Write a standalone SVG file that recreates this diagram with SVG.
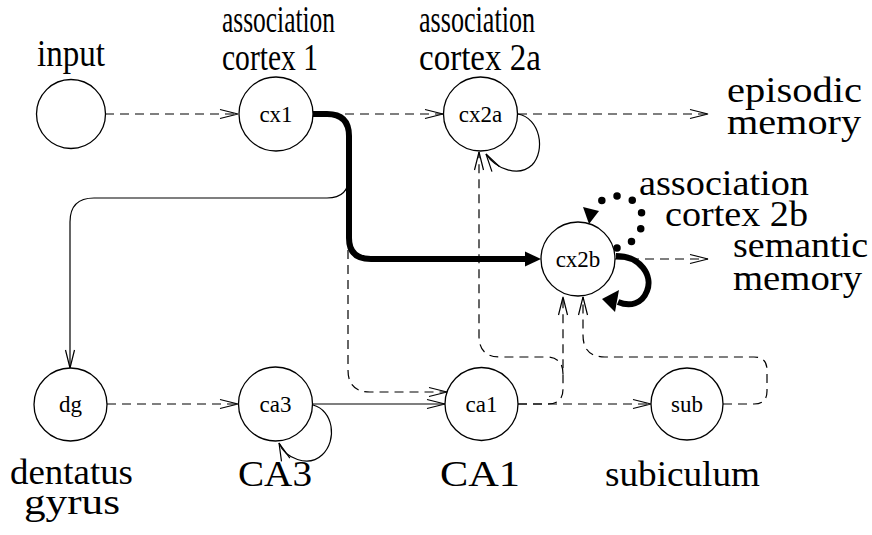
<svg xmlns="http://www.w3.org/2000/svg" width="872" height="535" viewBox="0 0 872 535">
<defs>
<marker id="open" markerUnits="userSpaceOnUse" markerWidth="20" markerHeight="12" refX="18" refY="5" orient="auto" overflow="visible">
<path d="M0,0.5 L18,5 L0,9.5" fill="none" stroke="#000" stroke-width="1.2"/>
</marker>
</defs>
<style>
.node circle{fill:#fff;stroke:#000;stroke-width:1.3}
.nl{font-family:"Liberation Serif",serif;font-size:23px;text-anchor:middle}
.lb{font-family:"Liberation Serif",serif;font-size:36px}
.tl{font-family:"Liberation Serif",serif;font-size:37px}
.dash{fill:none;stroke:#000;stroke-width:1.2;stroke-dasharray:9 6}
.thin{fill:none;stroke:#000;stroke-width:1.2}
.thick{fill:none;stroke:#000;stroke-width:6}
.dot{fill:none;stroke:#000;stroke-width:7.5;stroke-linecap:round;stroke-dasharray:0 16}
</style>
<rect width="872" height="535" fill="#fff"/>
<g id="connectors">
<path class="dash" d="M105 114 L238 114" marker-end="url(#open)"/>
<path class="dash" d="M330 114 L443 114" marker-end="url(#open)"/>
<path class="dash" d="M518 114 L708 114" marker-end="url(#open)"/>
<path class="thin" d="M518 114 C540 118 546 150 532 165 C518 178 495 168 486 154" marker-end="url(#open)"/>
<path class="thin" d="M349 176 Q349 198 327 198 L94 198 Q70 198 70 222 L70 368" marker-end="url(#open)"/>
<path class="dash" d="M348 250 L348 370 Q348 392 370 392 L447 392" marker-end="url(#open)"/>
<path class="dash" d="M107 404 L238 404" marker-end="url(#open)"/>
<path class="thin" d="M313 404 L445 404" marker-end="url(#open)"/>
<path class="thin" d="M313 405 C333 410 338 440 322 455 C308 468 285 458 279 443" marker-end="url(#open)"/>
<path class="dash" d="M518 404 L651 404" marker-end="url(#open)"/>
<path class="dash" d="M518 404 L548 404 Q563 404 563 389 L563 297" marker-end="url(#open)"/>
<path class="dash" d="M563 374 Q563 357 546 357 L500 357 Q479 357 479 336 L479 152" marker-end="url(#open)"/>
<path class="dash" d="M723 404 L754 404 Q767 404 767 391 L767 370 Q767 357 754 357 L605 357 Q583 357 583 335 L583 297" marker-end="url(#open)"/>
<path class="dash" d="M615 259 L708 259" marker-end="url(#open)"/>
<path class="thick" d="M313 114 L327 114 Q349 114 349 136 L349 238 Q349 259 371 259 L527 259"/>
<polygon points="525,251.5 541,259 525,266.5" fill="#000"/>
<path class="thick" d="M616 256 C641 256 653 276 647 291 C642 304 630 307 618 302"/>
<polygon points="602,299 619,290 615,312" fill="#000"/>
<path class="dot" d="M617 248 C637 244 646 226 641 211 C636 197 616 191 601 201"/>
<polygon points="583,207 599,211 589,224" fill="#000"/>
</g>
<g id="input" class="node"><circle cx="71" cy="114" r="34.5"/></g>
<g id="cx1" class="node"><circle cx="276" cy="114" r="37"/><text class="nl" x="276" y="122">cx1</text></g>
<g id="cx2a" class="node"><circle cx="480.5" cy="114" r="37"/><text class="nl" x="480.5" y="122">cx2a</text></g>
<g id="cx2b" class="node"><circle cx="578" cy="259" r="37"/><text class="nl" x="578" y="267">cx2b</text></g>
<g id="dg" class="node"><circle cx="70.5" cy="404.5" r="36.5"/><text class="nl" x="70.5" y="412">dg</text></g>
<g id="ca3" class="node"><circle cx="275.5" cy="404" r="37"/><text class="nl" x="275.5" y="412">ca3</text></g>
<g id="ca1" class="node"><circle cx="481.5" cy="404" r="36.5"/><text class="nl" x="481.5" y="412">ca1</text></g>
<g id="sub" class="node"><circle cx="687" cy="404" r="36"/><text class="nl" x="687" y="412">sub</text></g>
<g id="labels">
<text class="tl" x="37" y="66" textLength="68" lengthAdjust="spacingAndGlyphs">input</text>
<text class="tl" x="222" y="32" textLength="113" lengthAdjust="spacingAndGlyphs">association</text>
<text class="tl" x="222" y="70" textLength="96" lengthAdjust="spacingAndGlyphs">cortex 1</text>
<text class="tl" x="419" y="32" textLength="116" lengthAdjust="spacingAndGlyphs">association</text>
<text class="tl" x="419" y="70" textLength="122" lengthAdjust="spacingAndGlyphs">cortex 2a</text>
<text class="lb" x="727" y="102" textLength="135" lengthAdjust="spacingAndGlyphs">episodic</text>
<text class="lb" x="727" y="134" textLength="134" lengthAdjust="spacingAndGlyphs">memory</text>
<text class="lb" x="639" y="195" textLength="170" lengthAdjust="spacingAndGlyphs">association</text>
<text class="lb" x="665" y="226" textLength="143" lengthAdjust="spacingAndGlyphs">cortex 2b</text>
<text class="lb" x="733" y="257" textLength="135" lengthAdjust="spacingAndGlyphs">semantic</text>
<text class="lb" x="733" y="290" textLength="129" lengthAdjust="spacingAndGlyphs">memory</text>
<text class="lb" x="10" y="484" textLength="123" lengthAdjust="spacingAndGlyphs">dentatus</text>
<text class="lb" x="24" y="514" textLength="96" lengthAdjust="spacingAndGlyphs">gyrus</text>
<text class="lb" x="238" y="486" textLength="74" lengthAdjust="spacingAndGlyphs">CA3</text>
<text class="lb" x="440" y="486" textLength="80" lengthAdjust="spacingAndGlyphs">CA1</text>
<text class="lb" x="605" y="486" textLength="155" lengthAdjust="spacingAndGlyphs">subiculum</text>
</g>
</svg>
